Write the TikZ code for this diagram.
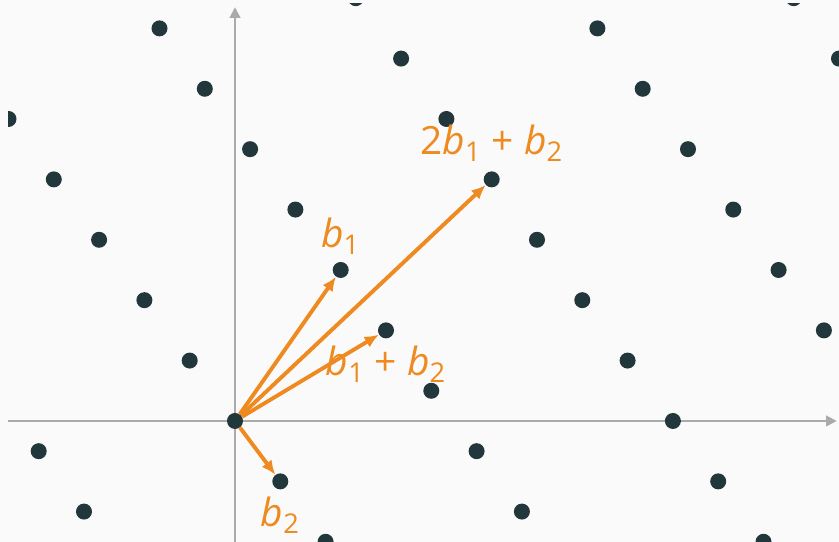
\documentclass[tikz,border=0pt]{standalone}
\usepackage{fontspec}
\setmainfont{Open Sans}
\usetikzlibrary{arrows.meta,positioning}
\definecolor{bgcol}{HTML}{FAFAFA}
\definecolor{dotcol}{HTML}{22373B}
\definecolor{veccol}{HTML}{EE8A1F}
\definecolor{axiscol}{HTML}{AAAAAA}
\newcommand{\bvec}[1]{\textit{b}\textsubscript{#1}}

\begin{document}
\begin{tikzpicture}[x=0.3cm,y=0.3cm,
  pt/.style={circle,fill=dotcol,inner sep=0pt,minimum size=0.318cm},
  vec/.style={veccol,line width=2.2pt,-{Latex[length=8pt,width=7pt]}},
  axis/.style={axiscol,line width=1.1pt,-{Triangle[length=6pt,width=6pt]}},
  lbl/.style={text=veccol,inner sep=0pt,font=\fontsize{22}{26}\selectfont}]
  \useasboundingbox (-15.563,-8.013) rectangle (40.0,27.88);
  \fill[bgcol] (-15.563,-8.013) rectangle (40.0,27.88);
  \clip (-15.03,-8.013) rectangle (40.0,27.62);
  % axes
  \coordinate (xa) at (-15.03,0);
  \coordinate (xb) at (39.85,0);
  \coordinate (ya) at (0,-8.5);
  \coordinate (yb) at (0,27.4);
  \draw[axis] (xa) -- (xb);
  \draw[axis] (ya) -- (yb);
  % lattice b1=(7,10), b2=(3,-4)
  \foreach \i in {-2,...,5}
    \foreach \j in {-7,...,9}
      \node[pt] (p\i/\j) at ({7*\i+3*\j},{10*\i-4*\j}) {};
  \draw[vec] (p0/0) -- (p1/0);
  \draw[vec] (p0/0) -- (p0/1);
  \draw[vec] (p0/0) -- (p1/1);
  \draw[vec] (p0/0) -- (p2/1);
  \node[lbl,above=4pt of p1/0] (lb1) {\bvec{1}};
  \node[lbl,below=4pt of p0/1] (lb2) {\bvec{2}};
  \node[lbl,below=4pt of p1/1] (lb12) {\bvec{1} + \bvec{2}};
  \node[lbl,above=5pt of p2/1] (lb212) {2\bvec{1} + \bvec{2}};
\end{tikzpicture}
\end{document}
